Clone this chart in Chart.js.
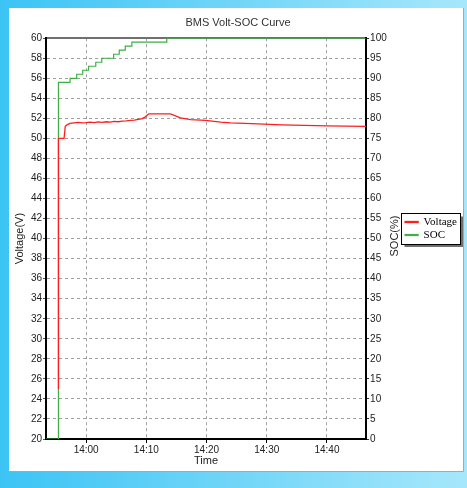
<!DOCTYPE html>
<html>
<head>
<meta charset="utf-8">
<script src="https://cdn.jsdelivr.net/npm/chart.js@4"></script>
<style>
  html, body { margin: 0; padding: 0; background: #5fcff7; }
  #bms_wrap { width: 467px; height: 488px; }
</style>
</head>
<body>
<div id="bms_wrap"><canvas id="bms_volt_soc_plot" width="467" height="488"></canvas></div>
<script>
// times (HH:MM:SS)
const volt_times = ['13:55:24', '13:55:24', '13:56:20', '13:56:32', '13:56:50', '13:57:18', '13:58:00', '13:58:40',
  '13:59:20', '14:00:00', '14:00:40', '14:01:20', '14:02:00', '14:02:40', '14:03:20', '14:04:00', '14:04:40',
  '14:05:20', '14:06:00', '14:06:40', '14:07:20', '14:08:00', '14:08:40', '14:09:20', '14:09:50', '14:10:24',
  '14:14:00', '14:15:40', '14:17:20', '14:19:50', '14:22:20', '14:24:00', '14:27:30', '14:32:30', '14:40:00', '14:46:30'];
const volt_values = [25.0, 50.0, 50.0, 51.2, 51.35, 51.5, 51.55, 51.6, 51.55, 51.58, 51.62, 51.58, 51.64, 51.6,
  51.66, 51.63, 51.7, 51.66, 51.72, 51.74, 51.8, 51.82, 51.9, 51.98, 52.15, 52.45,
  52.45, 52.05, 51.87, 51.8, 51.63, 51.55, 51.47, 51.35, 51.25, 51.2];

const soc_times = ['13:53:20', '13:55:24', '13:57:20', '13:58:26', '13:59:26', '14:00:24', '14:01:36', '14:02:36',
  '14:04:34', '14:05:30', '14:06:30', '14:07:36', '14:13:24', '14:46:30'];
const soc_values = [0, 89, 90, 91, 92, 93, 94, 95, 96, 97, 98, 99, 100, 100];

const time_ticks = ['14:00', '14:10', '14:20', '14:30', '14:40'];
const time_min = '13:53:20';
const time_max = '14:46:30';

function to_minutes(s) {
  const p = s.split(':').map(Number);
  return p[0] * 60 + p[1] + (p[2] || 0) / 60;
}
function to_label(m) {
  const h = Math.floor(m / 60);
  const mm = Math.round(m - h * 60);
  return h + ':' + String(mm).padStart(2, '0');
}

const tick_font = { family: 'Liberation Sans', size: 10 };
const tick_color = '#222';

const bms_background = {
  id: 'bms_background',
  beforeDraw(chart) {
    const ctx = chart.ctx;
    const w = chart.width, h = chart.height;
    const g = ctx.createLinearGradient(0, 0, w, 0);
    g.addColorStop(0, '#3cc4f5');
    g.addColorStop(1, '#a6e7fb');
    ctx.save();
    ctx.fillStyle = g;
    ctx.fillRect(0, 0, w, h);
    ctx.fillStyle = '#ffffff';
    ctx.fillRect(9, 8, 454, 463);
    ctx.strokeStyle = '#a8a8a8';
    ctx.lineWidth = 1;
    ctx.beginPath();
    ctx.moveTo(9.5, 471.5);
    ctx.lineTo(463.5, 471.5);
    ctx.lineTo(463.5, 8);
    ctx.stroke();
    ctx.restore();
  }
};

const bms_extras = {
  id: 'bms_extras',
  afterLayout(chart) {
    // legend sits a bit above the middle in the original
    chart.legend.top -= 10;
    chart.legend.bottom -= 10;
  },
  afterDraw(chart) {
    const ctx = chart.ctx;
    // right axis title, reads bottom to top
    ctx.save();
    ctx.font = '11px "Liberation Sans"';
    ctx.fillStyle = '#222';
    ctx.textAlign = 'center';
    ctx.textBaseline = 'middle';
    ctx.translate(395, 236);
    ctx.rotate(-Math.PI / 2);
    ctx.fillText('SOC(%)', 0, 0);
    ctx.restore();

    // legend frame with shadow
    const boxes = chart.legend.legendHitBoxes;
    if (!boxes || !boxes.length) return;
    let l = Infinity, t = Infinity, r = -Infinity, b = -Infinity;
    boxes.forEach(hb => {
      l = Math.min(l, hb.left);
      t = Math.min(t, hb.top);
      r = Math.max(r, hb.left + hb.width);
      b = Math.max(b, hb.top + hb.height);
    });
    l = Math.round(l) - 3.5; t = Math.round(t) - 3.5;
    r = Math.round(r) + 3.5; b = Math.round(b) + 3.5;
    ctx.save();
    ctx.strokeStyle = '#707070';
    ctx.lineWidth = 2;
    ctx.beginPath();
    ctx.moveTo(l + 3, b + 1.5);
    ctx.lineTo(r + 1.5, b + 1.5);
    ctx.lineTo(r + 1.5, t + 3);
    ctx.stroke();
    ctx.strokeStyle = '#000';
    ctx.lineWidth = 1;
    ctx.strokeRect(l, t, r - l, b - t);
    ctx.restore();
  }
};

const bms_canvas = document.querySelector('#bms_volt_soc_plot');

const bms_chart = new Chart(bms_canvas, {
  type: 'line',
  data: {
    datasets: [
      {
        label: 'Voltage',
        data: volt_times.map((t, i) => ({ x: to_minutes(t), y: volt_values[i] })),
        yAxisID: 'y',
        borderColor: '#ff1e1e',
        backgroundColor: '#ff1e1e',
        borderWidth: 1.3,
        pointRadius: 0,
        tension: 0
      },
      {
        label: 'SOC',
        data: soc_times.map((t, i) => ({ x: to_minutes(t), y: soc_values[i] })),
        yAxisID: 'y1',
        borderColor: '#3cb043',
        backgroundColor: '#3cb043',
        borderWidth: 1.2,
        pointRadius: 0,
        stepped: true
      }
    ]
  },
  options: {
    responsive: false,
    animation: false,
    events: [],
    layout: { padding: { top: 8, left: 9, right: 0, bottom: 19 } },
    scales: {
      x: {
        type: 'linear',
        position: 'bottom',
        min: to_minutes(time_min),
        max: to_minutes(time_max),
        afterBuildTicks: (scale) => {
          scale.ticks = time_ticks.map(t => ({ value: to_minutes(t) }));
        },
        afterFit: (scale) => { scale.height = 30; },
        ticks: {
          callback: (v) => to_label(v),
          font: tick_font,
          color: tick_color,
          padding: 1,
          maxRotation: 0
        },
        grid: {
          color: '#a0a0a0',
          tickColor: '#000',
          tickLength: 4,
          tickBorderDash: []
        },
        border: { color: '#000', width: 2, dash: [3, 3] },
        title: {
          display: true,
          text: 'Time',
          font: { family: 'Liberation Sans', size: 11 },
          color: '#222',
          padding: { top: 0, bottom: 1.5 }
        }
      },
      x2: {
        type: 'linear',
        position: 'top',
        min: to_minutes(time_min),
        max: to_minutes(time_max),
        afterFit: (scale) => { scale.height = 0; },
        ticks: { display: false },
        grid: { display: false },
        border: { color: '#707070', width: 2 }
      },
      y: {
        type: 'linear',
        position: 'left',
        min: 20,
        max: 60,
        afterFit: (scale) => { scale.width = 37; },
        ticks: { stepSize: 2, font: tick_font, color: tick_color, padding: 1 },
        grid: {
          color: (c) => (c.tick && (c.tick.value === 60 || c.tick.value === 20)) ? 'rgba(0,0,0,0)' : '#a0a0a0',
          tickColor: '#555',
          tickLength: 3,
          tickBorderDash: []
        },
        border: { color: '#000', width: 2, dash: [3, 3] },
        title: {
          display: true,
          text: 'Voltage(V)',
          font: { family: 'Liberation Sans', size: 11 },
          color: '#222',
          padding: { top: 4, bottom: 0 }
        }
      },
      y1: {
        type: 'linear',
        position: 'right',
        min: 0,
        max: 100,
        afterFit: (scale) => { scale.width = 37; },
        ticks: { stepSize: 5, font: tick_font, color: tick_color, padding: 1 },
        grid: {
          drawOnChartArea: false,
          tickColor: '#333',
          tickLength: 3
        },
        border: { color: '#000', width: 2 }
      }
    },
    plugins: {
      title: {
        display: true,
        text: 'BMS Volt-SOC Curve',
        font: { family: 'Liberation Sans', size: 11, weight: 'normal' },
        color: '#333',
        padding: { top: 8, bottom: 9 }
      },
      legend: {
        position: 'right',
        labels: {
          boxWidth: 13,
          boxHeight: 1,
          padding: 2,
          color: '#000',
          font: { family: 'Liberation Serif', size: 11 }
        }
      },
      tooltip: { enabled: false }
    }
  },
  plugins: [bms_background, bms_extras]
});
</script>
</body>
</html>
